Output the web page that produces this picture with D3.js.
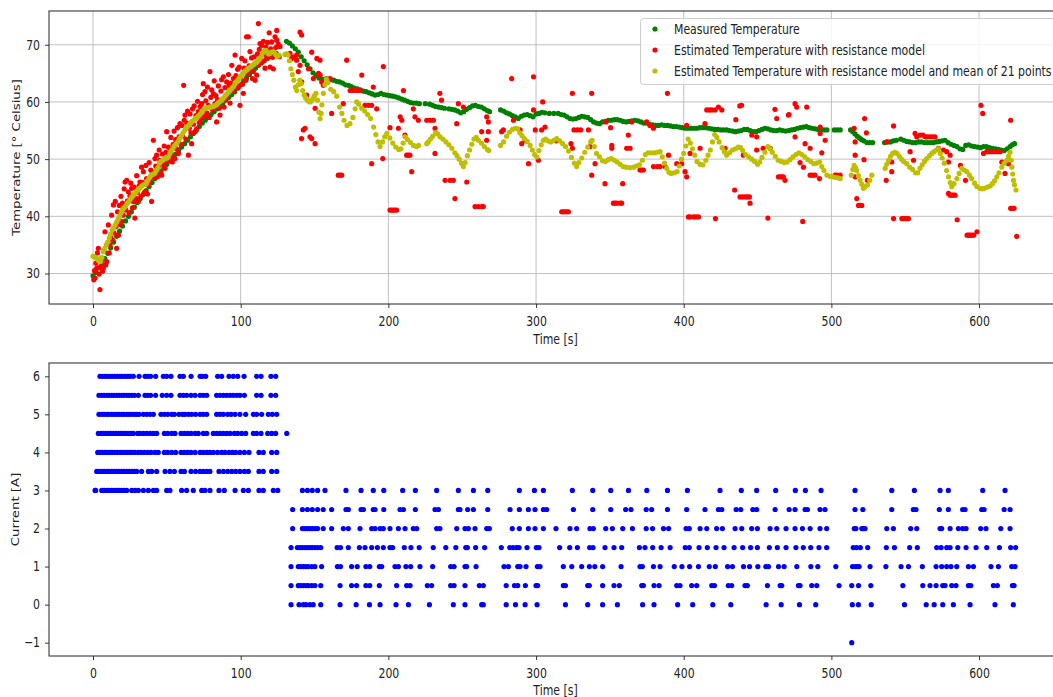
<!DOCTYPE html>
<html><head><meta charset="utf-8">
<script src="https://cdn.jsdelivr.net/npm/d3@7"></script>
<style>body{margin:0;background:#fff}svg{display:block}</style>
</head><body><svg id="c" width="1053" height="697"></svg>
<script>
const timeTicks=[0,100,200,300,400,500,600];
const tempTicks=[30,40,50,60,70];
const currentTicks=[-1,0,1,2,3,4,5,6];
const seriesNames=["Measured Temperature","Estimated Temperature with resistance model","Estimated Temperature with resistance model and mean of 21 points"];
const seriesColors=["#008000","#ff0000","#bfbf00"];

// Measured temperature [t, °C]
const measured=[[0,29.6],[2,30.2],[4,31.0],[6,31.8],[8,32.6],[10,33.5],[12,34.5],[14,35.5],[16,36.5],[18,37.4],[20,38.3],[22,39.2],[24,40.0],[26,40.8],[28,41.6],[30,42.4],[32,43.1],[34,43.8],[36,44.5],[38,45.2],[40,45.9],[42,46.6],[44,47.3],[46,47.9],[48,48.5],[50,49.1],[52,49.7],[54,50.3],[56,50.9],[58,51.5],[60,52.1],[62,52.7],[64,53.3],[66,53.9],[68,54.5],[70,55.1],[72,55.7],[74,56.3],[76,56.8],[78,57.3],[80,57.8],[82,58.3],[84,58.8],[86,59.3],[88,59.8],[90,60.3],[92,60.8],[94,61.3],[96,61.8],[98,62.4],[100,63.0],[102,63.6],[104,64.2],[106,64.8],[108,65.4],[110,65.9],[112,66.4],[114,66.8],[116,67.2],[118,67.6],[120,67.9],[122,68.2],[124,68.5],
[131,70.6],[133,70.3],[135,69.8],[137,69.3],[139,68.7],[141,67.9],[143,67.2],[145,66.5],[147,65.8],[149,65.1],[151,64.6],[153,64.2],[155,64.0],[158,64.1],[161,63.9],[163,63.8],[165,63.6],[167,63.5],[169,63.3],[171,63.0],[173,62.9],[175,62.7],[177,62.4],[179,62.3],[181,62.1],[183,61.9],[185,61.8],[187,61.6],[189,61.4],[191,61.2],[193,61.3],[195,61.5],[197,61.3],[199,61.2],[201,61.1],[203,61.0],[205,60.9],[207,60.7],[209,60.5],[211,60.3],[213,60.1],[215,59.9],[217,59.8],[219,59.8],[221,59.7],[225,59.7],[228,59.6],[230,59.4],[232,59.2],[234,59.1],[236,59.0],[238,58.9],[241,58.8],[243,58.7],[245,58.6],[247,58.4],[249,58.1],[251,58.3],[253,58.7],[255,59.0],[257,59.3],[259,59.4],[261,59.2],[263,59.1],[265,58.8],[267,58.5],[268.5,58.3],[276,58.6],[278,58.4],[280,58.1],[282,57.9],[284,57.6],[286,57.4],[288,57.1],[290,57.5],[292,57.7],[294,57.8],[296,57.6],[298,57.4],[300,57.9],[302,58.0],[304,58.2],[306,58.1],[309,58.0],[312,58.0],[315,58.0],[317,57.8],[319,57.7],[321,57.4],[323,57.1],[325,57.0],[327,57.1],[329,57.3],[331,57.5],[333,57.4],[335,57.3],[337,56.9],[339,56.5],[341,56.3],[343,56.2],[345,56.5],[347,56.6],[349,56.8],[351,56.8],[353,56.9],[355,56.9],[357,56.8],[359,56.6],[361,56.5],[363,56.6],[365,56.7],[367,56.8],[369,56.7],[371,56.5],[373,56.3],[375,56.3],[377,56.1],[379,56.0],[381,55.9],[383,55.9],[385,56.0],[387,55.9],[389,55.9],[391,55.8],[393,55.7],[395,55.7],[397,55.6],[399,55.5],[401,55.4],[403,55.4],[405,55.4],[407,55.4],[409,55.4],[411,55.5],[413,55.5],[415,55.5],[417,55.4],[419,55.3],[421,55.2],[423,55.2],[425,55.1],[427,55.1],[429,55.1],[431,55.0],[433,54.9],[435,54.8],[437,54.9],[439,55.0],[441,55.2],[443,55.2],[445,55.0],[447,54.8],[449,54.8],[451,55.0],[453,55.2],[455,55.4],[457,55.3],[459,55.1],[461,55.0],[463,55.0],[465,55.1],[467,55.0],[469,54.9],[471,55.0],[473,55.1],[475,55.2],[477,55.4],[479,55.5],[481,55.6],[483,55.7],[485,55.5],[487,55.4],[489,55.3],[491,55.2],[493,55.2],[495,55.1],[497,55.1],[502,55.1],[504,55.1],[506,55.1],[513,55.1],[514.5,54.8],[516,54.4],[517.5,54.0],[519,53.7],[520.5,53.4],[522,53.2],[524,52.9],[526,52.9],[528,52.9],[536,52.9],[538,53.0],[540,53.0],[542,53.2],[544,53.3],[547,53.5],[549,53.3],[551,53.1],[553,53.0],[555,52.9],[557,52.9],[559,53.0],[561,53.0],[563,52.9],[565,52.9],[567,52.9],[569,52.9],[571,53.0],[573,53.1],[575,53.2],[577,53.3],[579,52.9],[581,52.6],[583,52.4],[585,52.2],[587,51.8],[589,51.7],[591,52.4],[593,52.5],[595,52.3],[597,52.2],[599,52.1],[601,52.0],[603,52.2],[605,52.2],[607,52.0],[609,51.9],[611,51.8],[613,51.7],[615,51.6],[617,51.5],[619,51.8],[621,52.2],[622.5,52.5],[624,52.7]];

// Estimated temperature with resistance model [t, °C]
const estimated=[[0.5,28.9],[1,30.5],[1.4,29.2],[2,31.8],[2.5,30.9],[3,33.6],[3.6,34.4],[4.2,29.9],[4.7,27.2],[5.3,31.2],[5.9,32.7],[6.4,30.4],[7,30.9],[7.5,33.9],[8.1,37.3],[8.6,31.5],[9.3,32.1],[9.8,35.2],[10.4,38.5],[11,33.6],[11.5,35],[12,36.4],[12.6,40.2],[13.1,35.9],[13.8,42],[14.3,37.1],[15.1,42.6],[15.6,38.2],[16,34.4],[16.6,40.8],[17.2,36.7],[17.8,41.9],[18.3,38.6],[18.9,43.5],[19.4,39.1],[20,42.3],[20.5,40.2],[21.1,44.8],[21.7,46],[22.3,41.1],[22.8,46.3],[23.4,42.7],[23.9,44.3],[24.5,40.6],[25,43.6],[25.6,45.8],[26.2,44.9],[26.7,41.5],[27.3,42.6],[27.8,45.1],[28.4,39.7],[29,43.2],[29.6,47.1],[30.1,44.2],[30.7,42.6],[31.2,45.3],[31.8,46],[32.4,43.5],[32.9,48.6],[33.5,45.9],[34.1,47.8],[34.6,44.1],[35.2,44.3],[35.8,48.9],[36.3,46.6],[36.9,43.9],[37.5,45.5],[38,49.4],[38.6,46.2],[39.1,48.1],[39.7,42.6],[40.3,47.7],[40.9,53.3],[41.4,46.8],[42,50.1],[42.5,48.8],[43.1,50.7],[43.6,46.9],[44.2,48.7],[44.8,51.6],[45.3,49.8],[45.9,47.6],[46.5,47.2],[47,50.9],[47.6,49.1],[48.2,52.3],[48.8,48.4],[49.3,51.2],[49.9,54.8],[50.4,49.6],[51,52.1],[51.6,50.3],[52.1,51.9],[52.7,53.8],[53.2,50.8],[53.7,49.5],[54.3,52.6],[54.9,54.9],[55.5,50.1],[56,53.4],[56.6,51.8],[57.2,55.5],[57.8,51],[58.3,53.9],[58.9,56.2],[59.5,52.6],[60.1,55.9],[60.6,54.1],[61.4,62.9],[61.8,56.8],[62.3,57.7],[62.9,53.5],[63.5,56.3],[64,58.4],[64.6,50.7],[65.2,55.4],[65.7,57.9],[66.3,54.6],[66.8,52.7],[67.4,58.8],[68,56.1],[68.5,59.3],[69.1,54.8],[69.7,57.6],[70.2,55.3],[70.8,60.1],[71.3,58.3],[71.9,56.4],[72.5,59.2],[73,57.1],[73.6,59.7],[74.2,61.3],[74.7,63.2],[75.3,57.5],[75.8,61.8],[76.4,60.2],[77,58.1],[77.5,62.6],[78.1,59.4],[78.7,57.3],[79.2,65.3],[79.8,60.8],[80.4,62.1],[81,58.6],[81.5,61.4],[82.1,63.7],[82.6,59.7],[83.2,61.1],[83.7,56.5],[84.3,60.4],[84.9,62.8],[85.4,58.9],[86,57.7],[86.6,61.9],[87.1,63.9],[87.7,60.2],[88.3,64.4],[88.8,59.1],[89.4,62.5],[90,60.6],[90.5,63.5],[91.1,61.2],[91.7,64.8],[92.2,62.9],[92.8,59.8],[93.4,63.3],[94,66.4],[94.5,61.9],[95.1,64.1],[95.6,62.2],[96.2,68.2],[96.8,64.6],[97.3,62.8],[97.9,65.7],[98.4,62.6],[99,66.1],[99.5,59.4],[100.1,64.3],[100.7,67.6],[101.2,63.1],[101.8,61.5],[102.4,65.9],[102.9,67.2],[103.5,63.8],[104,71.4],[104.6,64.9],[105.2,71.4],[105.7,66.3],[106.3,68.8],[106.9,65.6],[107.4,67.7],[108,64.1],[108.6,65.3],[109.1,67.9],[109.7,63.8],[110.3,66.8],[110.8,64.7],[111.4,68.4],[112,73.7],[112,66.5],[112.6,69.2],[113.1,70.2],[113.7,66.9],[114.2,69.9],[114.8,67.1],[115.4,70.6],[115.9,68.3],[116.5,65.9],[117,69.6],[117.6,67.6],[118.2,70.4],[118.7,68.9],[119.3,72.1],[119.9,66.1],[120.4,69.3],[121,70.5],[121.6,67.8],[122.1,65.8],[122.7,68.6],[123.3,71.4],[123.8,69.5],[124.4,72.5],[124.4,70.8],[125,68.2],[125.5,70.1],[126.1,67.9],[126.6,69.7],
[133.4,68.5],[134.5,67.6],[135.7,67.9],[137.9,68.2],[137.9,67.3],[139,65.3],[140.2,72.2],[141.3,71.7],[140.2,66.4],[141.3,63.5],[142.4,55.1],[143.6,55.4],[141.2,53.6],[144.7,61.2],[145.9,65.8],[146.9,53.9],[148.1,53.6],[148.1,68.7],[149.2,64.1],[150.4,52.7],[150.4,58.9],[151.6,67.6],[152.7,65],[153.8,64.7],[153.7,67.3],[154.9,63.5],[156,62.9],[160.5,64.1],[161.6,58],[166.1,47.2],[167.3,47.2],[168.4,47.2],[169.5,59.7],[171.8,67.3],[174.1,62],[176.3,62],[178.6,62],[180.8,62],[182,64.7],[184.2,59.4],[186.5,59.4],[188.7,59.4],[188.7,49.2],[189.8,62.6],[192.1,58.8],[196.2,50.1],[196.6,66.2],[201.1,55.5],[201.1,41.1],[202.2,41.1],[203.4,41.1],[204.5,41.1],[205.6,41.1],[206.8,55.4],[208,57.4],[209.1,56.8],[210.2,62],[211.3,54.2],[212.4,50.7],[213.5,50.7],[214.6,50.7],[215.8,47.8],[216.9,58.8],[218,57.4],[220.3,56.8],[226,56.8],[228.2,56.8],[230.5,56.8],[231.6,55.4],[231.6,51],[234.9,61.5],[236,60.3],[238.4,46.3],[241.8,46.3],[244,46.3],[245.1,43.1],[246.3,56.2],[247.4,59.7],[250.8,59.1],[253.1,46],[258.7,41.7],[260.9,41.7],[263.2,41.7],[264.3,41.7],[263.2,54.8],[266.6,57.4],[267.7,54.8],[266.6,53.3],[267.7,56.5],[276.7,54.8],[277.9,55.1],[283.5,64.1],[284.7,56.8],[289.2,55.1],[290.3,52.7],[292.6,53.3],[294.9,49.2],[298.3,64.4],[298.3,58.6],[299.5,55.1],
[301.6,49.8],[303.8,55.1],[304.5,60],[306.1,55.6],[313.5,53.2],[317.4,40.8],[318.5,40.8],[319.6,40.8],[320.8,40.8],[321.9,40.8],[323.7,52.7],[324.6,51.9],[324.6,61.5],[325.7,55.1],[328,55.1],[330.2,55.1],[335.5,55.1],[336.6,52.2],[337.7,61.5],[337.7,47.2],[340,49.2],[346.7,45.7],[347.4,56.5],[350.5,55.5],[351.3,52.4],[351.3,51.9],[352.4,42.3],[353.5,42.3],[354.7,42.3],[356.9,42.3],[358,42.3],[358.7,45.7],[361.4,51.9],[362.5,54.2],[363.7,51.9],[364.8,56.5],[370.4,48.1],[371.5,48.1],[372.7,48.1],[374.9,56.5],[377.2,55.9],[379.5,48.7],[379.5,55.4],[382,48.7],[384,48.7],[387.4,48.7],[389,61.5],[389.7,50.7],[395.3,49.2],[398.6,49.2],[400.9,47.8],[402,55.9],[402,46.9],[403.2,39.9],[404.3,39.9],[406.6,39.9],[408.2,39.9],[410,39.9],[404.3,51],[411.1,51.9],[414.4,56.2],[415.6,58.6],[417.3,58.6],[419,58.6],[421.3,58.6],[423.5,59.1],[425.8,58.6],[421.5,39.6],[428,51.9],[434.5,44.6],[435.3,56.9],[438.1,43.4],[438,59.3],[439.8,43.4],[441.5,43.4],[443,43.4],[444.5,43.4],[444.9,42.3],[439.2,59.4],[440.4,50.7],[446.1,54.2],[449.4,53.9],[449.4,51.6],[453.8,51.9],[457,39.7],[458.6,51.9],[461.8,58.7],[463,57.1],[464.1,46.9],[465.3,46.9],[466.4,46.9],[467.5,46.9],[468.6,46.3],[471.3,57.8],
[470.9,57.7],[475.4,59.7],[476.5,59.1],[483.3,59.1],[475.4,53.9],[482.2,52.7],[485.6,51.9],[478.8,49.4],[481.1,48.6],[485.6,47.2],[487.2,47.2],[488.9,47.2],[491.9,46.6],[492.4,55.6],[492.4,54.5],[493.5,51.1],[495.8,53.3],[480.6,39.1],[502.5,47.2],[503.6,47.2],[505.9,47.2],[515.4,55.4],[516.1,53],[516.1,50.7],[522.5,57.1],[523.7,54.6],[522.1,49.9],[516.1,46.9],[517.2,43.1],[518.4,41.9],[519.5,41.9],[520.6,41.9],[524.4,46.3],[537.1,46.3],[537.5,53],[540.9,49.5],[540.9,47.8],[542.1,55.8],[542.1,39.6],[547.7,39.6],[548.8,39.6],[549.9,39.6],[551,39.6],[552.2,39.6],[553.3,51.3],[555.6,49.8],[556.7,54.5],[557.8,53.9],[560.1,54.2],[562,54.2],[563.5,53.9],[565,53.9],[566.8,53.9],[568.5,53.9],[570.2,53.9],[572.5,51.9],[575.9,51.6],[578.1,51.3],[579.3,49.5],[579.3,44],[580.4,43.7],[581.5,43.7],[582.6,43.7],[583.7,43.7],[580.4,50.7],[585.2,39.4],[587.4,48.9],[590.8,46.3],[591.9,36.7],[593,36.7],[594.1,36.7],[595.2,36.7],[596.4,36.7],[598.6,37.3],[601.3,59.4],[602.5,58],[603,51],[605.2,51.3],[606.3,51.3],[607.5,51.3],[609,51.3],[610.8,51.3],[612.5,51.3],[614.3,51.3],[615.4,49.5],[617.6,47.5],[619.9,49.2],[621.4,56.8],[621.4,41.4],[622.5,41.4],[623.7,41.4],[625.5,36.5]];

// Estimated temperature, mean of 21 points [t, °C]
const mean21=[[0,33.0],[1,32.9],[2,32.8],[3,32.5],[4,32.2],[5,32.1],[6,32.8],[7,33.8],[8,34.4],[9,35.0],[10,35.5],[11,36.2],[12,36.9],[13,37.6],[14,38.0],[15,38.5],[16,39.0],[17,39.5],[18,40.0],[19,40.6],[20,41.2],[21,41.5],[22,41.8],[23,42.2],[24,42.5],[25,42.9],[26,43.3],[27,43.6],[28,43.9],[29,44.2],[30,44.5],[31,44.8],[32,45.0],[33,45.3],[34,45.5],[35,45.6],[36,45.7],[37,46.2],[38,46.7],[39,47.1],[40,47.3],[41,47.4],[42,47.6],[43,48.1],[44,48.5],[45,49.3],[46,49.6],[47,49.8],[48,50.0],[49,50.1],[50,50.2],[51,50.4],[52,51.0],[53,51.5],[54,51.9],[55,52.3],[56,52.6],[57,52.9],[58,53.3],[59,53.7],[60,54.2],[61,54.6],[62,55.0],[63,55.4],[64,55.7],[65,56.0],[66,56.3],[67,56.6],[68,56.8],[69,57.0],[70,57.2],[71,57.5],[72,57.7],[73,58.0],[74,58.4],[75,58.7],[76,58.9],[77,59.0],[78,59.0],[79,59.1],[80,59.1],[81,59.2],[82,59.3],[83,59.4],[84,59.6],[85,59.9],[86,60.1],[87,60.3],[88,60.6],[89,60.9],[90,61.2],[91,61.5],[92,61.8],[93,62.1],[94,62.4],[95,62.7],[96,63.1],[97,63.5],[98,63.8],[99,64.2],[100,64.5],[101,64.8],[102,65.1],[103,65.4],[104,65.6],[105,65.8],[106,66.0],[107,66.2],[108,66.4],[109,66.6],[110,66.8],[111,67.0],[112,67.3],[113,67.6],[114,68.0],[115,68.6],[116,68.9],[117,69.0],[118,68.7],[119,68.4],[120,68.5],[121,68.7],[122,68.8],[123,68.5],[124,68.2],[125,68.0],[126,68.2],
[130,68.3],[131,68.4],[132,68.2],[133,67.2],[134,65.8],[135,64.8],[136,63.8],[137,62.6],[138,62.0],[139,63.0],[140,63.8],[141,63.2],[142,62.0],[143,61.2],[144,60.7],[145,60.4],[146,60.1],[147,60.0],[148,60.2],[149,60.6],[150,61.1],[151,61.5],[152,60.3],[153,58.2],[153.8,57.1],[154.5,58.0],[155,59.5],[156,61.5],[157,63.0],[158,64.0],[159,63.4],[161,62.2],[163,61.8],[165,61.0],[167,59.1],[168.5,58.0],[170,56.8],[172,55.9],[174,56.2],[176,57.3],[177.5,58.8],[178.6,60.0],[180,59.6],[182,58.9],[184,58.4],[186,57.8],[188,57.1],[190,55.6],[191.5,54.3],[193,53.0],[194.4,52.2],[196,53.0],[197.5,53.9],[199,54.5],[201,53.7],[203,52.8],[205,52.1],[207,51.7],[208.5,51.8],[210,52.8],[211.3,53.9],[213,53.4],[215,52.9],[217,52.4],[219,52.2],[220.5,52.4],[226,52.7],[227,53.0],[228.5,53.5],[230,54.0],[232,54.6],[233.5,54.4],[235,53.9],[237,53.5],[239,53.0],[241,52.5],[243,51.9],[245,51.1],[246.5,50.6],[248,50.0],[249.5,49.3],[250.8,48.7],[252,49.4],[253.5,50.6],[255,51.6],[256.5,52.6],[258,53.5],[259.5,53.8],[261,53.3],[263,52.8],[265,52.2],[267,51.7],[268,51.5],
[276,52.4],[278,53.0],[280,54.0],[282,54.7],[284,55.2],[286,55.4],[287.5,55.3],[289,54.6],[290.5,54.1],[292,53.6],[294,53.1],[296,52.4],[297.5,51.6],[299,50.8],[300.5,50.4],[302,51.5],[303.5,52.5],[305,53.3],[306.5,53.5],[308,53.2],[310,53.0],[312,53.3],[314,53.6],[316,53.2],[318,52.7],[320,52.2],[322,51.4],[324,50.3],[326,49.3],[327.5,48.7],[329,49.4],[331,50.2],[333,51.2],[335,52.1],[337,53.0],[338,53.3],[339.5,52.2],[341,51.0],[343,50.4],[345,49.7],[347,49.6],[349,49.9],[351,50.1],[353,49.8],[355,49.5],[357,49.1],[359,48.7],[361,48.6],[363.5,48.5],[366,48.6],[368,48.8],[370,49.0],[372,49.8],[374,50.8],[376,51.1],[378,51.1],[380,51.1],[382,51.2],[384,51.3],[385.5,50.4],[387,49.3],[388.5,48.4],[390,47.7],[391.5,47.5],[393.5,47.6],[395.5,47.8],[397,48.8],[398.5,50.0],[400,51.0],[401.5,52.3],[403,53.5],[404.5,52.8],[406,51.8],[407.5,50.7],[409,49.6],[411,49.1],[413,49.0],[415,49.8],[416.5,50.7],[418,51.6],[419.5,53.0],[421,54.3],[422.5,53.8],[424,53.0],[426,52.0],[427.5,51.3],[429,50.7],[431,51.1],[433,51.6],[435,51.8],[437,52.1],[438.5,52.0],[440,51.5],[442,50.8],[444,50.4],[446,50.0],[448,49.6],[450,49.1],[451.5,49.5],[453,50.3],[455,51.2],[457,52.2],[458.5,51.8],[460,51.2],[462,50.5],[464,49.8],[466,49.6],[468,49.4],[470,49.5],[472,49.9],[474,50.4],[476,50.8],[478,51.1],[480,50.8],[482,50.4],[484,49.9],[486,49.6],[488,49.2],[490,49.3],[492,49.5],[493.5,48.7],[495,48.0],[497,47.2],[499,47.0],[501,46.9],[503,46.8],[505,46.7],[506,46.6],
[513.5,47.2],[514.5,48.2],[515.4,48.9],[516.3,48.5],[517.2,48.0],[518.3,47.1],[519.5,46.3],[520.6,45.6],[521.7,44.9],[523,45.2],[524.5,45.5],[526,46.3],[527.4,47.2],
[536.4,48.4],[537.5,49.1],[538.7,49.8],[540,50.5],[541.5,51.0],[543,51.2],[544.5,51.0],[546,50.5],[547.5,50.0],[549,49.6],[551,49.2],[553,48.6],[555,48.2],[557,47.6],[558.5,47.6],[560,48.4],[561.5,49.0],[563,49.6],[564.6,50.1],[566.5,50.6],[568,51.0],[569.5,51.3],[571,51.6],[572.5,51.8],[573.8,51.0],[575,50.2],[576.5,49.3],[578,48.0],[579.3,46.9],[580.5,45.9],[581.5,45.2],[583,45.7],[585,46.6],[586.5,47.5],[588.3,48.4],[590,48.1],[591.7,47.8],[593.5,47.2],[595,46.6],[597,45.8],[598.5,45.2],[600.5,44.9],[602,44.8],[603.5,44.9],[605.5,45.1],[607.5,45.3],[609,45.7],[610.5,46.2],[612,46.9],[613.5,47.6],[615.4,48.6],[617,49.3],[618.8,49.8],[620,50.5],[621,51.2],[621.7,49.8],[622.2,48.6],[622.8,47.4],[623.3,46.3],[624,45.5],[625,44.6]];

// Current: level [A] and the times [s] at which it was sampled
const currentLevels=[6,5.5,5,4.5,4,3.5,3,2.5,2,1.5,1,0.5,0,-1];
const currentTimes=[
[4.7,6.3,8.1,9.7,11.5,13.1,14.9,16.5,18.3,19.9,21.7,23.5,25.1,27.3,31.2,35.2,37,39,42.4,47.6,49.9,52.8,58.9,61.2,66.4,72.5,74,76.3,84.4,87.1,92.1,95,98,102.3,110.8,113.8,120.5,123.7],
[4,5.9,7.5,9.3,10.8,12.6,14.2,16,17.6,19.4,21,22.8,24.4,26.2,28,30.7,35.2,37,39,42.4,46.9,49.9,52.8,58.9,61.2,63.4,66.4,69.1,72.5,74.7,77,83.7,86,88.3,90.5,92.8,95,97.3,99.5,102.5,110.8,113.8,120.5,123.7],
[4,5.9,7.5,9.3,10.8,12.6,14.2,16,17.6,19.4,21,22.8,24.4,26.2,28,29.6,31.2,34.1,36.3,38.6,40.9,46,48.3,50.6,53.3,55.1,58.2,60.5,62.3,64.6,66.8,69.5,72.5,74.7,77,83.7,86,88.3,91.2,93.5,96.2,99.5,103.4,108.6,110.8,114.2,118.7,121.4,124.4],
[3.6,5.4,7,8.6,10.4,12,13.8,15.4,17.2,18.7,20.5,22.1,23.9,25.7,27.3,30.2,31.8,34.1,36.3,38.6,40.9,43.1,48.3,50.6,53.3,55.5,59.6,61.9,64.1,66.4,69.1,71.3,74.7,77,81.5,83.7,86,88.3,90.5,92.8,95.7,98,100.7,103.4,108.6,110.8,113.8,118.3,121,123.7,131.2],
[3.2,4.7,6.3,8.1,9.7,11.5,13.1,14.9,16.5,18.3,19.9,21.7,23.5,25,26.6,28.4,30.7,32.5,34.7,37,39.3,42,44.2,48.3,50.6,53.3,56,59.6,61.9,64.1,66.4,69.1,72.5,74.7,77,79.2,81.5,84.4,87.1,89.4,92.1,94.4,96.6,99.5,102.5,105.6,112.4,115.3,121,124.4],
[2.5,4,5.9,7.5,9.3,10.8,12.6,14.2,16,17.6,19.4,21,22.8,24.4,26.2,28,29.6,32.9,37.5,39.7,43.1,48.8,52.1,55.1,59.6,61.9,66.4,69.5,72.5,74.7,77,79.2,85.3,88.3,91.2,93.9,96.6,99.5,102.5,105.2,112.4,115.3,121,124.4],
[1.4,1.8,5.9,7.5,9.3,10.8,12.6,14.4,16,17.6,19.4,21.2,22.8,26.2,28.4,30.7,34.1,37.5,40.9,43.1,49.9,52.1,60,63.4,67.9,73.6,75.8,79.2,85.3,88.9,96.2,101.8,105.2,112.4,115.3,122.1,125.1,141.8,145.2,148.5,152.1,157.1,171.3,181.5,189.8,196.9,209.7,218.3,232.7,247.4,257.6,267.3,288.7,298.9,305,324.6,338.4,350.6,362.6,375,389,402.5,424.6,439,449.4,462.3,475.6,482.4,493,516,540.9,556.2,573.6,579.2,602.5,617.6],
[135.2,141.8,145.2,148.5,152.1,155.9,161.6,171.3,172.9,181.5,183.1,189.8,191,196.9,207.9,210.2,218.3,231.6,233.9,247.4,248.5,253.7,257.6,267.3,282.4,288.7,294.8,299.3,305,307.2,325.3,338.4,350.6,360.7,364.3,374.6,378.3,389,402,414.4,423.5,425.8,435.5,438.6,446.8,449.4,461.9,471.4,475.4,482.2,483.8,492.3,495.7,516,521.3,540.9,555.5,557.3,573.1,579.2,588.9,590.5,601.8,603.4,617,621],
[135.2,141.8,143.6,145.2,147,148.5,150.3,152.1,155.9,161.6,169.5,172.9,180.8,188.7,191,194.4,196.6,201.1,206.8,211.3,216.9,219.2,232.7,234.9,246.3,251.9,254.2,258.7,266.6,268.4,283.9,288.7,294.8,299.3,305,313.5,323,327.5,336.5,338.8,347.2,351.7,358.7,365.3,374.6,378.9,386.3,389.8,401.6,403.8,411.1,415.6,422.3,426.2,434.8,439.3,446,449.9,458.5,463,469.3,475.4,480.4,485.6,492.3,496.8,515.5,516.6,520.6,521.7,522.8,537.5,542,553.7,557.8,573.6,574.7,580.4,586,588.9,591.2,601.1,604.7,614.7,621],
[134.1,138.4,140.2,141.8,143.6,145.2,147,148.5,150.3,152.1,154.2,165.3,167.6,172.9,180.4,184.2,188.7,192.6,196.6,201.1,202.9,210.8,215.3,220.9,230.4,238.9,245.7,252.4,253.5,259.1,265.2,276.5,282.2,284.4,286.7,288.5,293.9,300.2,302,316,322.8,328,336.3,338.6,346.7,352.8,358,370,373.8,379,384.7,390.8,401,403.8,410.4,416,421.9,427.3,434.1,439.9,445.3,449.9,458,463.4,469.3,476,481,486,491.6,496.8,514.8,517,519.6,524.6,537.2,542.7,553,558.2,571.3,574.3,578.1,580.4,585.6,591.2,598,605.2,613.8,621.4,624.8],
[134.1,139,140.6,142.4,144.2,145.8,148.1,150.3,154.8,165.5,167.6,175.1,178.9,184.8,187.4,193.9,195.5,204.5,206.8,211.9,215.1,221.4,230,242.2,244.5,251.9,253,259.4,278.3,281.3,287.6,289.2,293.2,300.9,302.7,318.5,324.2,330.9,336.1,339.8,345.1,357.6,370.4,372,379.5,384,393.6,398.8,404,410,417.3,421.4,429.7,433,440.5,444.6,450.2,455.6,457.4,464.2,468,476.6,486.1,490.8,503,514.3,516.1,517.5,518.8,526.2,536.9,547.2,552.2,561.6,570.9,574.7,578.1,581,584.9,592.8,596.2,608.1,613.1,622.1,624.4],
[134.1,139,140.6,142.4,144.2,145.8,148.1,150.3,154.2,167.3,175.1,178.5,184.8,187.4,193.9,205.6,212.4,214.7,226.4,229.3,242.2,244.5,251.9,261.6,264.3,279.8,285.4,287.6,292.8,300,301.1,318.5,319.9,335,336.1,345.1,352.8,356.4,371.6,372.7,379.9,383.3,395.3,397.5,405.4,408.8,419,420.8,430.2,432.5,441.5,443.1,456.7,465.3,466.4,477.7,478.8,486.7,490.1,505.2,513.8,518.4,526.7,548.4,561.9,566.8,570.9,575.4,577,581.5,584.4,592.8,594.4,609.7,612.4,622.6,623.7],
[134.1,139.5,142.4,144.2,146.9,149.1,154.2,167.3,178.2,187.2,194.4,205.2,213.6,227.8,244,251.9,263.2,264.3,279.8,286.1,292.6,300.7,319.9,335,345.1,355.1,372.2,379.9,395.9,406.1,419.7,431.9,455.8,466,478.4,489.4,514.2,518.3,527,549.5,564.2,569.6,575.4,582.6,593.9,610.8,623.2],
[513.8]
];

const svg=d3.select("#c");
const FONT="DejaVu Sans", FS=13.3, SX=0.82, R=2.6;
const x=d3.scaleLinear().domain([-29.8,656.3]).range([49,1062.2]);
const yT=d3.scaleLinear().domain([24.67,75.9]).range([304,11]);
const yC=d3.scaleLinear().domain([-1.35,6.35]).range([656,363]);

function panel(y,id){
  const top=y.range()[1],bot=y.range()[0];
  svg.append("clipPath").attr("id",id).append("rect").attr("x",49).attr("y",top).attr("width",1062.2-49).attr("height",bot-top);
  return svg.append("g").attr("clip-path",`url(#${id})`);
}
function axes(y,ticks){
  const bot=y.range()[0],top=y.range()[1];
  const gx=svg.append("g").attr("transform",`translate(0,${bot})`)
    .call(d3.axisBottom(x).tickValues(timeTicks).tickSize(4).tickPadding(8.3).tickFormat(d3.format("d")));
  const gy=svg.append("g").attr("transform","translate(49,0)")
    .call(d3.axisLeft(y).tickValues(ticks).tickSize(4).tickPadding(5).tickFormat(d3.format("d")));
  [gx,gy].forEach(g=>{
    g.select(".domain").remove();
    g.selectAll("line").attr("stroke","#222").attr("stroke-width",0.9);
    g.selectAll("text").attr("font-family",FONT).attr("font-size",FS).attr("fill","#222")
      .attr("transform",`scale(${SX},1)`);
  });
  gy.selectAll("text").attr("x",-9/SX);
  svg.append("rect").attr("x",49).attr("y",top).attr("width",1062.2-49).attr("height",bot-top)
    .attr("fill","none").attr("stroke","#222").attr("stroke-width",1);
}
function label(txt,x0,y0,rot){
  svg.append("text").attr("transform",`translate(${x0},${y0}) scale(${SX},1)`+(rot?" rotate(-90)":""))
    .attr("text-anchor","middle").attr("font-family",FONT).attr("font-size",FS).attr("fill","#222").text(txt);
}
function dots(g,data,color,yS){
  g.append("g").selectAll("circle").data(data).join("circle")
    .attr("cx",d=>x(d[0])).attr("cy",d=>yS(d[1])).attr("r",R).attr("fill",color);
}

// ---- top panel
const gT=panel(yT,"clipT");
const grid=gT.append("g").attr("stroke","#b0b0b0").attr("stroke-width",0.8);
timeTicks.forEach(t=>grid.append("line").attr("x1",x(t)).attr("x2",x(t)).attr("y1",11).attr("y2",304));
tempTicks.forEach(v=>grid.append("line").attr("x1",49).attr("x2",1062).attr("y1",yT(v)).attr("y2",yT(v)));
dots(gT,measured,seriesColors[0],yT);
dots(gT,estimated,seriesColors[1],yT);
dots(gT,mean21,seriesColors[2],yT);
axes(yT,tempTicks);
label("Time [s]",555.5,343.5,false);
label("Temperature [° Celsius]",20,157.5,true);

// legend
const lg=svg.append("g");
lg.append("rect").attr("x",640.5).attr("y",18.5).attr("width",430).attr("height",66).attr("rx",3)
  .attr("fill","#fff").attr("fill-opacity",0.8).attr("stroke","#cccccc");
seriesNames.forEach((n,i)=>{
  const cy=29+i*21;
  lg.append("circle").attr("cx",655).attr("cy",cy).attr("r",R).attr("fill",seriesColors[i]);
  lg.append("text").attr("transform",`translate(674,${cy+4.6}) scale(${SX},1)`)
    .attr("font-family",FONT).attr("font-size",FS).attr("fill","#222").text(n);
});

// ---- bottom panel
const gC=panel(yC,"clipC");
const curPts=[];
currentLevels.forEach((lv,i)=>currentTimes[i].forEach(t=>curPts.push([t,lv])));
dots(gC,curPts,"#0000ff",yC);
axes(yC,currentTicks);
label("Time [s]",555.5,695,false);
label("Current [A]",19,509.5,true);
</script></body></html>
